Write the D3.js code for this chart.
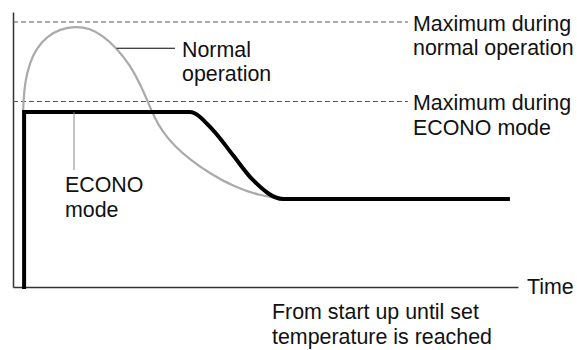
<!DOCTYPE html>
<html>
<head>
<meta charset="utf-8">
<script src="https://cdn.jsdelivr.net/npm/d3@7"></script>
<style>
  html, body { margin: 0; padding: 0; background: #fff; }
  svg { display: block; }
  text { font-family: "Liberation Sans", Arial, sans-serif; font-size: 21.4px; fill: #111; }
</style>
</head>
<body>
<svg id="chart" width="577" height="350"></svg>
<script>
// ---- data (time in arbitrary units 0..100, level in % of normal maximum) ----
const normalCurve = [
  [2.2, 0], [2.1, 40], [1.95, 62], [2.04, 69.8], [2.38, 77.5], [3.37, 85.0], [4.69, 90.1],
  [6.67, 94.5], [9.31, 97.3], [12.28, 98.4], [15.25, 97.6], [17.82, 94.8], [20.53, 90.1],
  [23.17, 83.8], [25.2, 76.5], [26.73, 69.8], [28.0, 64.0], [29.6, 58.6], [32.1, 53.0],
  [35.0, 48.2], [39.0, 42.8], [43.9, 37.7], [48.9, 34.5], [53.5, 33.2], [54.5, 33.2]
];
const econoRise = [[2.2, 0], [2.2, 66]];
const econoCurve = [
  [2.2, 66], [35, 66], [39.6, 59.2], [43.5, 49.9], [47.5, 40.4], [53.5, 33.2], [98.4, 33.2]
];
const maxLevels = [100, 70];
const maxLabels = [["Maximum during", "normal operation"], ["Maximum during", "ECONO mode"]];
const normalLabel = ["Normal", "operation"];
const econoLabel = ["ECONO", "mode"];
const xAxisLabel = "Time";
const bottomLabel = ["From start up until set", "temperature is reached"];

// ---- scales ----
const svg = d3.select("#chart");
const x = d3.scaleLinear().domain([0, 100]).range([13, 518]);
const y = d3.scaleLinear().domain([0, 100]).range([287, 22]);

// axes
const xAxis = d3.axisBottom(x).tickValues([]).tickSizeOuter(0);
svg.append("g").attr("transform", `translate(0,${y(0)})`).call(xAxis)
  .select(".domain").attr("stroke", "#333").attr("stroke-width", 1.5);
const yTop = 103.8;
const yAxis = d3.axisLeft(y.copy().domain([0, yTop]).range([y(0), y(yTop)])).tickValues([]).tickSizeOuter(0);
svg.append("g").attr("transform", `translate(${x(0)},0)`).call(yAxis)
  .select(".domain").attr("stroke", "#333").attr("stroke-width", 1.5);

// dashed maximum lines
const dashEnd = 78.2;
svg.selectAll("line.max").data(maxLevels).join("line")
  .attr("class", "max")
  .attr("x1", x(0)).attr("x2", x(dashEnd))
  .attr("y1", d => y(d)).attr("y2", d => y(d))
  .attr("stroke", "#555").attr("stroke-width", 1.2)
  .attr("stroke-dasharray", "5,3");

// max labels
maxLevels.forEach((lv, i) => {
  const t = svg.append("text").attr("x", 413).attr("y", y(lv) + 8.5);
  maxLabels[i].forEach((s, j) => {
    t.append("tspan").attr("x", 413).attr("dy", j === 0 ? 0 : 24.5).text(s);
  });
});

// normal operation curve
svg.append("path").datum(normalCurve)
  .attr("d", d3.line().x(d => x(d[0])).y(d => y(d[1])).curve(d3.curveBasis))
  .attr("fill", "none").attr("stroke", "#aaaaaa").attr("stroke-width", 2.2);

// econo curve
svg.append("path").datum(econoRise)
  .attr("d", d3.line().x(d => x(d[0])).y(d => y(d[1])))
  .attr("fill", "none").attr("stroke", "#000").attr("stroke-width", 4).attr("stroke-linecap", "square");
svg.append("path").datum(econoCurve)
  .attr("d", d3.line().x(d => x(d[0])).y(d => y(d[1])).curve(d3.curveMonotoneX))
  .attr("fill", "none").attr("stroke", "#000").attr("stroke-width", 4).attr("stroke-linecap", "butt");

// leader for Normal operation
const nAnchor = normalCurve[12];
svg.append("line")
  .attr("x1", x(nAnchor[0])).attr("x2", 175)
  .attr("y1", y(nAnchor[1])).attr("y2", y(nAnchor[1]))
  .attr("stroke", "#000").attr("stroke-width", 1);
const nt = svg.append("text").attr("x", 182).attr("y", 57);
normalLabel.forEach((s, j) => nt.append("tspan").attr("x", 182).attr("dy", j === 0 ? 0 : 23.5).text(s));

// leader for ECONO mode
svg.append("line")
  .attr("x1", 74).attr("x2", 74)
  .attr("y1", y(66)).attr("y2", 170)
  .attr("stroke", "#888").attr("stroke-width", 1);
const et = svg.append("text").attr("x", 65).attr("y", 192);
econoLabel.forEach((s, j) => et.append("tspan").attr("x", 65).attr("dy", j === 0 ? 0 : 25).text(s));

// axis label
svg.append("text").attr("x", 527).attr("y", 293.5).text(xAxisLabel);

// bottom label
const bt = svg.append("text").attr("x", 272).attr("y", 318.5);
bottomLabel.forEach((s, j) => bt.append("tspan").attr("x", 272).attr("dy", j === 0 ? 0 : 25).text(s));
</script>
</body>
</html>
